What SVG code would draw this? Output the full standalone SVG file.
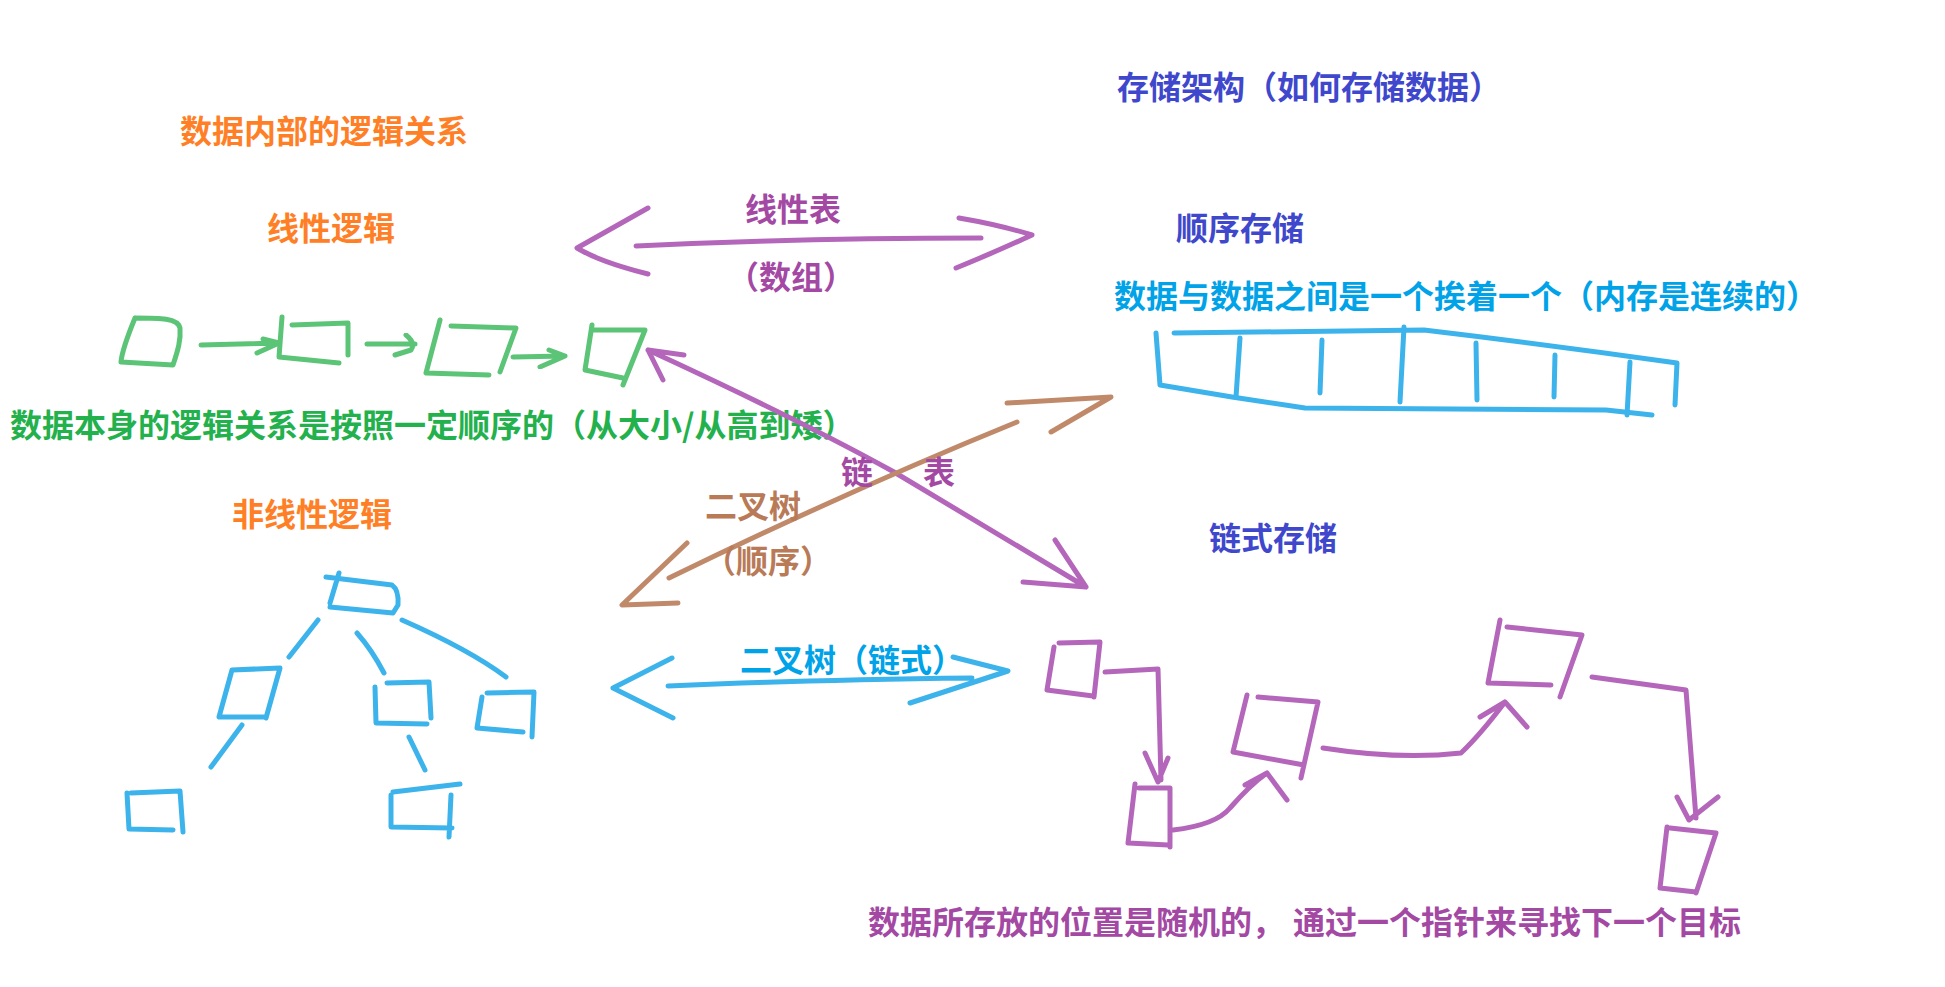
<svg xmlns="http://www.w3.org/2000/svg" width="1945" height="987" viewBox="0 0 1945 987">
<defs>
<filter id="soft" x="-5%" y="-5%" width="110%" height="110%"><feGaussianBlur stdDeviation="0.7"/></filter>
<style>
text{font-family:"Noto Sans CJK SC","Microsoft YaHei",sans-serif;font-weight:700;font-size:32px}
.to{fill:#FF7F27}.tg{fill:#22B14C}.tp{fill:#A349A4}.tb{fill:#00A2E8}.tv{fill:#3F48CC}.tr{fill:#B97A57}
.s{fill:none;stroke-width:5;stroke-linecap:round;stroke-linejoin:round;filter:url(#soft)}
.g{stroke:#5cc477}.p{stroke:#b466bb}.b{stroke:#3cb3ec}.r{stroke:#c08a6a}
</style>
</defs>
<rect width="1945" height="987" fill="#fff"/>

<g id="labels">
<text id="t-logic" class="to" x="180" y="143">数据内部的逻辑关系</text>
<text id="t-linear" class="to" x="267" y="240">线性逻辑</text>
<text id="t-nonlinear" class="to" x="232" y="526">非线性逻辑</text>
<text id="t-storage" class="tv" x="1117" y="99">存储架构（如何存储数据）</text>
<text id="t-seq" class="tv" x="1176" y="240">顺序存储</text>
<text id="t-seqdesc" class="tb" x="1114" y="308">数据与数据之间是一个挨着一个（内存是连续的）</text>
<text id="t-lineardesc" class="tg" x="10" y="437">数据本身的逻辑关系是按照一定顺序的（从大小/从高到矮）</text>
<text id="t-chain" class="tv" x="1209" y="550">链式存储</text>
<text id="t-chaindesc" class="tp" x="868" y="934">数据所存放的位置是随机的，<tspan x="1293">通过一个指针来寻找下一个目标</tspan></text>
</g>

<g id="linear-nodes" class="s g">
<g id="ln1"><path d="M135,318 C128,335 122,350 121,362 L173,365 C178,350 181,340 180,328 C178,318 160,318 135,318"/></g>
<g id="ln2"><path d="M282,317 L279,357 L339,363 M292,325 L348,323 L348,355"/></g>
<g id="ln3"><path d="M440,320 L426,373 L489,375 M451,326 L516,328 L500,372"/></g>
<g id="ln4"><path d="M592,325 L585,370 L623,378 M592,330 L645,330 L623,385"/></g>
</g>

<g id="tree-nodes" class="s b">
<g id="tn-root"><path d="M339,573 L330,603 M326,577 L392,585 Q399,590 398,605 L393,613 L330,607"/></g>
<g id="tn-l"><path d="M232,670 L219,717 L266,717 M232,670 L280,668 L266,718"/></g>
<g id="tn-m"><path d="M375,687 L376,723 L427,724 M387,683 L429,682 L431,718"/></g>
<g id="tn-r"><path d="M482,697 L477,728 L523,732 M487,693 L534,692 L532,737"/></g>
<g id="tn-ll"><path d="M127,793 L129,829 L173,830 M131,793 L180,791 L183,832"/></g>
<g id="tn-ml"><path d="M391,795 L391,827 L452,828 M393,792 L460,784 M451,795 L449,837"/></g>
</g>

<g id="array" class="s b">
<path d="M1174,333 L1424,330 Q1550,345 1677,363 L1675,405"/>
<path d="M1156,333 L1160,385 L1232,397 L1305,408 L1606,410 L1652,415"/>
<path d="M1240,338 L1236,397 M1322,340 L1320,393 M1404,327 L1400,402 M1476,343 L1477,400 M1555,355 L1554,397 M1630,362 L1627,415"/>
</g>

<g id="chain-nodes" class="s p">
<g id="cn-a"><path d="M1054,647 L1047,690 L1093,696 M1059,643 L1100,642 L1094,697"/></g>
<g id="cn-b"><path d="M1135,784 L1128,843 L1168,845 M1139,788 L1170,788 L1170,847"/></g>
<g id="cn-c"><path d="M1247,695 L1233,752 L1304,765 M1258,697 L1318,702 L1301,778"/></g>
<g id="cn-d"><path d="M1500,620 L1488,683 L1551,685 M1507,627 L1582,635 L1560,697"/></g>
<g id="cn-e"><path d="M1667,827 L1660,888 L1696,892 M1670,828 L1716,833 L1696,893"/></g>
</g>

<g id="connectors">
<g class="s g">
<path d="M201,345 L279,343 M263,339 L279,343 L257,353"/>
<path d="M367,344 L415,344 M406,335 Q416,343 411,350 L395,355"/>
<path d="M513,357 L565,356 M549,350 L565,356 L540,367"/>
</g>
<g class="s b">
<path d="M318,620 L289,657 M357,633 Q372,650 384,673 M402,620 Q470,650 506,677 M242,725 L211,767 M409,737 L425,770"/>
<path d="M668,686 Q800,680 972,678 M672,658 L613,688 L673,718 M953,657 L1008,671 L910,703"/>
</g>
<g class="s p">
<path d="M636,246 Q800,238 981,238 M648,208 Q600,235 577,248 Q600,262 648,274 M959,218 Q1000,225 1032,235 Q1000,250 956,268"/>
<path d="M648,350 Q800,420 894,472 Q1000,535 1086,587 M684,355 L648,350 L663,380 M1055,540 L1086,587 L1023,582"/>
<path d="M1105,672 L1158,669 L1161,780 M1145,753 L1158,782 L1168,758"/>
<path d="M1173,830 Q1216,825 1230,808 Q1250,785 1267,773 M1245,785 L1267,773 L1287,800"/>
<path d="M1323,748 Q1400,760 1461,753 Q1480,735 1505,702 M1480,717 L1505,702 L1527,727"/>
<path d="M1592,677 L1686,690 L1696,818 M1677,797 L1689,820 L1718,797"/>
</g>
<g class="s r">
<path d="M669,578 Q850,490 1017,422 M687,543 L622,605 L678,603 M1007,403 L1111,397 L1051,432"/>
</g>
</g>

<g id="connector-labels">
<text class="tp" x="745" y="221">线性表</text>
<text class="tp" x="791" y="289" text-anchor="middle">（数组）</text>
<text class="tp"><tspan x="841" y="484">链</tspan><tspan x="923" y="484">表</tspan></text>
<text class="tr" x="705" y="518">二叉树</text>
<text class="tr" x="768" y="573" text-anchor="middle">（顺序）</text>
<text class="tb" x="740" y="672">二叉树（链式）</text>
</g>
</svg>
